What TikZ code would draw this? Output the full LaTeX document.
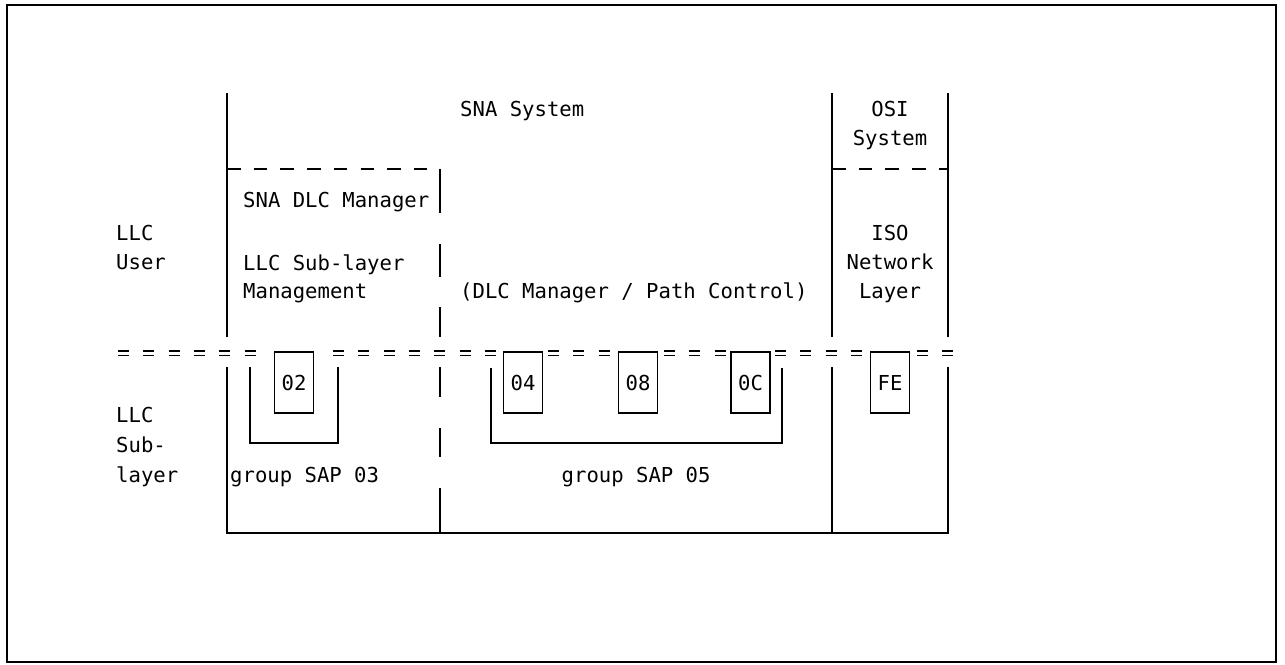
\documentclass[tikz,border=0pt]{standalone}
\usepackage{fontspec}
\newfontfamily\diagfont{DejaVu Sans Mono}
\begin{document}
\begin{tikzpicture}[x=1pt,y=-1pt,
  txt/.style={inner sep=0pt, font=\diagfont\fontsize{20.6}{29.5}\selectfont},
  lab/.style={txt, anchor=base west},
  clab/.style={txt, anchor=base},
  sapbox/.style={draw, line width=1.4pt, minimum width=39pt, minimum height=61pt, inner sep=0pt, txt},
  frame/.style={line width=1.6pt},
  dashh/.style={line width=1.4pt, dash pattern=on 13.5pt off 13.2pt},
  eqline/.style={line width=1.3pt, dash pattern=on 11pt off 14.3pt}]
\useasboundingbox (0,0) rectangle (1285,664);
% outer frame
\draw[line width=2pt] (7,5) rectangle (1276,662);
% main columns
\draw[frame] (227,93) -- (227,337);
\draw[frame] (832,93) -- (832,337);
\draw[frame] (948,93) -- (948,337);
\draw[frame] (227,367) -- (227,533) -- (948,533) -- (948,367);
\draw[frame] (832,367) -- (832,533);
% SNA DLC manager bracket
\draw[dashh] (227,169) -- (440,169);
\draw[frame] (440,169) -- (440,213);
\foreach \a/\b in {244/277,307/337,367/397,428/457,488/533}
  \draw[frame] (440,\a) -- (440,\b);
% OSI dashed separator
\draw[dashh] (832,169) -- (948,169);
% double dashed boundary
\foreach \s/\e in {118/256,333/496,548/610,664/726,775/862,917/954}{
  \draw[eqline] (\s,351) -- (\e,351);
  \draw[eqline] (\s,355.5) -- (\e,355.5);
}
% SAP boxes
\node[sapbox] (b02) at (294,382.5) {02};
\node[sapbox] (b04) at (523,382.5) {04};
\node[sapbox] (b08) at (638,382.5) {08};
\node[sapbox] (b0C) at (750.5,382.5) {0C};
\node[sapbox] (bFE) at (890,382.5) {FE};
% group brackets
\draw[frame] (250,367) -- (250,443) -- (338,443) -- (338,367);
\draw[frame] (491,368) -- (491,443) -- (782,443) -- (782,368);
% texts
\node[lab] (sna) at (460,116.5) {SNA System};
\node[clab] (osia) at (890,116.5) {OSI};
\node[clab] (osib) at (890,145.5) {System};
\node[lab] (dlcm) at (243,207) {SNA DLC Manager};
\node[lab] (llcua) at (116,240) {LLC};
\node[lab] (llcub) at (116,269) {User};
\node[lab] (lsma) at (243,270) {LLC Sub-layer};
\node[lab] (lsmb) at (243,298) {Management};
\node[lab] (pc) at (460,298) {(DLC Manager / Path Control)};
\node[clab] (isoa) at (890,240) {ISO};
\node[clab] (isob) at (890,269) {Network};
\node[clab] (isoc) at (890,298) {Layer};
\node[lab] (llcsa) at (116,422) {LLC};
\node[lab] (llcsb) at (116,452) {Sub-};
\node[lab] (llcsc) at (116,482) {layer};
\node[lab] (g03) at (230,482) {group SAP 03};
\node[lab] (g05) at (561.5,482) {group SAP 05};
\end{tikzpicture}
\end{document}
